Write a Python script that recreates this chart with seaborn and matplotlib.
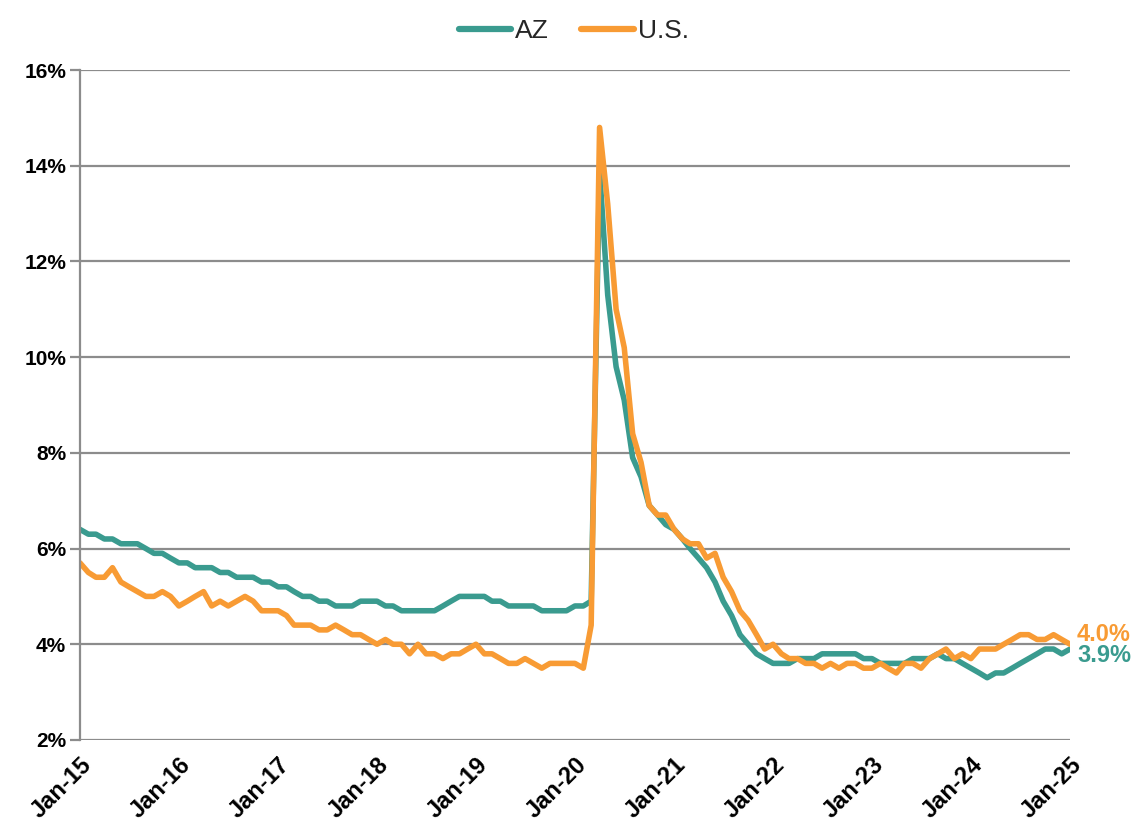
import numpy as np
import pandas as pd
import matplotlib
matplotlib.use("Agg")
import matplotlib.pyplot as plt
import seaborn as sns

# ---- data (monthly, Jan-2015 .. Jan-2025), unemployment rate in % ----
az = [
    6.4, 6.3, 6.3, 6.2, 6.2, 6.1, 6.1, 6.1, 6.0, 5.9, 5.9, 5.8,   # 2015
    5.7, 5.7, 5.6, 5.6, 5.6, 5.5, 5.5, 5.4, 5.4, 5.4, 5.3, 5.3,   # 2016
    5.2, 5.2, 5.1, 5.0, 5.0, 4.9, 4.9, 4.8, 4.8, 4.8, 4.9, 4.9,   # 2017
    4.9, 4.8, 4.8, 4.7, 4.7, 4.7, 4.7, 4.7, 4.8, 4.9, 5.0, 5.0,   # 2018
    5.0, 5.0, 4.9, 4.9, 4.8, 4.8, 4.8, 4.8, 4.7, 4.7, 4.7, 4.7,   # 2019
    4.8, 4.8, 4.9, 13.9, 11.3, 9.8, 9.1, 7.9, 7.5, 6.9, 6.7, 6.5, # 2020
    6.4, 6.2, 6.0, 5.8, 5.6, 5.3, 4.9, 4.6, 4.2, 4.0, 3.8, 3.7,   # 2021
    3.6, 3.6, 3.6, 3.7, 3.7, 3.7, 3.8, 3.8, 3.8, 3.8, 3.8, 3.7,   # 2022
    3.7, 3.6, 3.6, 3.6, 3.6, 3.7, 3.7, 3.7, 3.8, 3.7, 3.7, 3.6,   # 2023
    3.5, 3.4, 3.3, 3.4, 3.4, 3.5, 3.6, 3.7, 3.8, 3.9, 3.9, 3.8,   # 2024
    3.9,                                                          # 2025
]
us = [
    5.7, 5.5, 5.4, 5.4, 5.6, 5.3, 5.2, 5.1, 5.0, 5.0, 5.1, 5.0,
    4.8, 4.9, 5.0, 5.1, 4.8, 4.9, 4.8, 4.9, 5.0, 4.9, 4.7, 4.7,
    4.7, 4.6, 4.4, 4.4, 4.4, 4.3, 4.3, 4.4, 4.3, 4.2, 4.2, 4.1,
    4.0, 4.1, 4.0, 4.0, 3.8, 4.0, 3.8, 3.8, 3.7, 3.8, 3.8, 3.9,
    4.0, 3.8, 3.8, 3.7, 3.6, 3.6, 3.7, 3.6, 3.5, 3.6, 3.6, 3.6,
    3.6, 3.5, 4.4, 14.8, 13.2, 11.0, 10.2, 8.4, 7.8, 6.9, 6.7, 6.7,
    6.4, 6.2, 6.1, 6.1, 5.8, 5.9, 5.4, 5.1, 4.7, 4.5, 4.2, 3.9,
    4.0, 3.8, 3.7, 3.7, 3.6, 3.6, 3.5, 3.6, 3.5, 3.6, 3.6, 3.5,
    3.5, 3.6, 3.5, 3.4, 3.6, 3.6, 3.5, 3.7, 3.8, 3.9, 3.7, 3.8,
    3.7, 3.9, 3.9, 3.9, 4.0, 4.1, 4.2, 4.2, 4.1, 4.1, 4.2, 4.1,
    4.0,
]
series_names = ["AZ", "U.S."]
colors = {"AZ": "#3a9b8f", "U.S.": "#f89b34"}
y_ticks = [2, 4, 6, 8, 10, 12, 14, 16]
dates = pd.date_range("2015-01-01", periods=len(az), freq="MS")
x_ticks = pd.date_range("2015-01-01", "2025-01-01", freq="YS")
x_labels = [d.strftime("%b-%y") for d in x_ticks]

df = pd.DataFrame({
    "date": np.concatenate([dates, dates]),
    "rate": az + us,
    "series": ["AZ"] * len(az) + ["U.S."] * len(us),
})

sns.set_style("white")
plt.rcParams["font.family"] = ["Liberation Sans", "DejaVu Sans"]

fig = plt.figure(figsize=(11.36, 8.24), dpi=100)
ax = fig.add_axes([0.0704, 0.102, 0.8716, 0.813])

sns.lineplot(data=df, x="date", y="rate", hue="series", hue_order=series_names,
             palette=colors, linewidth=4.0, ax=ax, legend=False,
             solid_joinstyle="round", solid_capstyle="round")

ax.set_ylim(2, 16)
ax.set_xlim(dates[0], dates[-1])
ax.set_yticks(y_ticks)
ax.set_yticklabels([f"{v}%" for v in y_ticks], fontsize=15, fontweight="bold")
ax.set_xticks(x_ticks)
ax.set_xticklabels(x_labels, rotation=45, ha="right", rotation_mode="anchor",
                   fontsize=17, fontweight="bold")
ax.set_xlabel("")
ax.set_ylabel("")

grid_c = "#8c8c8c"
ax.yaxis.grid(True, color=grid_c, linewidth=1.6)
ax.xaxis.grid(False)
ax.set_axisbelow(True)
for s in ["top", "right", "bottom"]:
    ax.spines[s].set_visible(False)
ax.spines["left"].set_color(grid_c)
ax.spines["left"].set_linewidth(1.6)
ax.tick_params(axis="y", which="both", left=True, length=7, width=1.6,
               color=grid_c, pad=3, labelcolor="black")
ax.tick_params(axis="x", which="both", bottom=False, pad=6, labelcolor="black")

# end labels
ax.annotate(f"{us[-1]:.1f}%", xy=(dates[-1], us[-1]), xytext=(5, 7),
            textcoords="offset points", color=colors["U.S."], fontsize=17,
            fontweight="bold", va="center", ha="left", annotation_clip=False)
ax.annotate(f"{az[-1]:.1f}%", xy=(dates[-1], az[-1]), xytext=(5, -5),
            textcoords="offset points", color=colors["AZ"], fontsize=17,
            fontweight="bold", va="center", ha="left", annotation_clip=False)

handles = [plt.Line2D([0], [0], color=colors[n], lw=4.5, solid_capstyle="round")
           for n in series_names]
fig.legend(handles, series_names, loc="upper center", bbox_to_anchor=(0.505, 1.006),
           ncol=2, frameon=False, fontsize=19, handlelength=2.0,
           handletextpad=0.15, columnspacing=1.2)

fig.savefig("out.png", dpi=100)
